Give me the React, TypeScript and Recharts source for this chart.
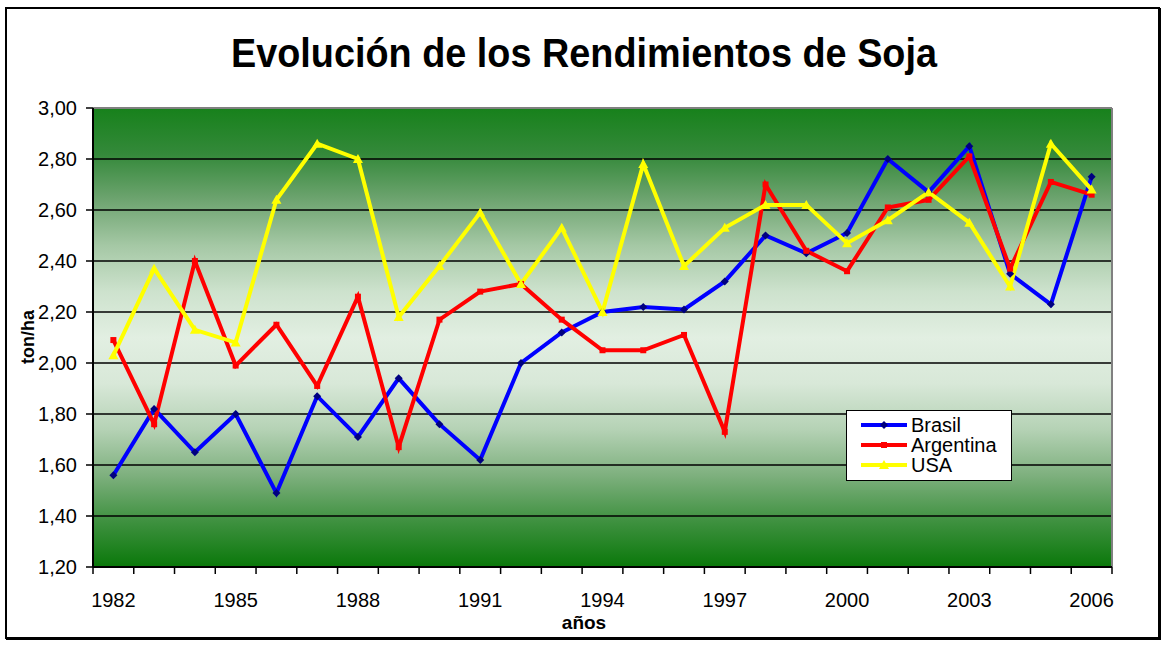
import { LineChart, Line, XAxis, YAxis, CartesianGrid, Legend, ReferenceLine } from 'recharts'

const FONT = '"Liberation Sans", Arial, sans-serif'

const years = [
  1982, 1983, 1984, 1985, 1986, 1987, 1988, 1989, 1990, 1991, 1992, 1993, 1994,
  1995, 1996, 1997, 1998, 1999, 2000, 2001, 2002, 2003, 2004, 2005, 2006,
]
const brasil = [
  1.56, 1.82, 1.65, 1.8, 1.49, 1.87, 1.71, 1.94, 1.76, 1.62, 2.0, 2.12, 2.2,
  2.22, 2.21, 2.32, 2.5, 2.43, 2.51, 2.8, 2.67, 2.85, 2.35, 2.23, 2.73,
]
const argentina = [
  2.09, 1.76, 2.4, 1.99, 2.15, 1.91, 2.26, 1.67, 2.17, 2.28, 2.31, 2.17, 2.05,
  2.05, 2.11, 1.73, 2.7, 2.44, 2.36, 2.61, 2.64, 2.81, 2.37, 2.71, 2.66,
]
const usa = [
  2.03, 2.37, 2.13, 2.08, 2.64, 2.86, 2.8, 2.18, 2.38, 2.59, 2.31, 2.53, 2.2,
  2.78, 2.38, 2.53, 2.62, 2.62, 2.47, 2.56, 2.67, 2.55, 2.3, 2.86, 2.68,
]
const yTicks = [1.2, 1.4, 1.6, 1.8, 2.0, 2.2, 2.4, 2.6, 2.8, 3.0]
const labelYears = [1982, 1985, 1988, 1991, 1994, 1997, 2000, 2003, 2006]

const series = [
  { key: 'brasil', name: 'Brasil', color: '#0000ff', marker: 'diamond' },
  { key: 'argentina', name: 'Argentina', color: '#ff0000', marker: 'square' },
  { key: 'usa', name: 'USA', color: '#ffff00', marker: 'triangle' },
]

const data = years.map((year, i) => ({
  idx: i,
  year,
  brasil: brasil[i],
  argentina: argentina[i],
  usa: usa[i],
}))

// tick marks sit between categories, labels every third year at the centre
const boundaryTicks = years.map((_, i) => i - 0.5).concat([years.length - 0.5])
const labelTicks = labelYears.map(y => years.indexOf(y))
const xTicks = [...boundaryTicks, ...labelTicks].sort((a, b) => a - b)

function Marker({ cx, cy, shape, color }: any) {
  if (cx == null || cy == null) return null
  if (shape === 'diamond')
    return (
      <polygon
        points={`${cx},${cy - 4} ${cx + 4},${cy} ${cx},${cy + 4} ${cx - 4},${cy}`}
        fill="#000080"
      />
    )
  if (shape === 'square')
    return <rect x={cx - 3} y={cy - 3} width={6} height={6} fill={color} />
  return (
    <polygon
      points={`${cx},${cy - 5} ${cx + 5},${cy + 4} ${cx - 5},${cy + 4}`}
      fill={color}
    />
  )
}

function XTick(props: any) {
  const { x, y, payload } = props
  const v = payload.value
  if (!Number.isInteger(v)) {
    return <line x1={x} x2={x} y1={y} y2={y + 7} stroke="#000" strokeWidth={1.5} />
  }
  return (
    <text x={x} y={y + 40} textAnchor="middle" fontSize={20} fontFamily={FONT} fill="#000">
      {years[v]}
    </text>
  )
}

function LegendBox() {
  return (
    <div
      style={{
        background: '#fff',
        border: '1.5px solid #000',
        boxSizing: 'border-box',
        width: 166,
        height: 71,
        padding: '4px 0 0 14px',
        fontFamily: FONT,
        fontSize: 20,
        lineHeight: '20px',
        color: '#000',
      }}
    >
      {series.map(s => (
        <div key={s.key} style={{ display: 'flex', alignItems: 'center', height: 20 }}>
          <svg width={46} height={20} style={{ marginRight: 4 }}>
            <line x1={0} x2={46} y1={10} y2={10} stroke={s.color} strokeWidth={4} />
            <Marker cx={23} cy={10} shape={s.marker} color={s.color} />
          </svg>
          <span>{s.name}</span>
        </div>
      ))}
    </div>
  )
}

export default function App() {
  return (
    <div style={{ position: 'absolute', left: 0, top: 0, width: 1161, height: 646, background: '#fff' }}>
      <div
        style={{
          position: 'absolute',
          left: 5,
          top: 7,
          width: 1155,
          height: 632,
          boxSizing: 'border-box',
          border: '2px solid #000',
          boxShadow: '1px 1px 0 #000',
        }}
      />
      <div style={{ position: 'absolute', left: 0, top: 0 }}>
        <LineChart
          width={1161}
          height={646}
          data={data}
          margin={{ top: 108, right: 49, bottom: 0, left: 0 }}
        >
          <defs>
            <linearGradient id="bgGrad" x1="0" y1="0" x2="0" y2="1">
              <stop offset="0%" stopColor="#17811b" />
              <stop offset="10%" stopColor="#34893a" />
              <stop offset="20%" stopColor="#6ea470" />
              <stop offset="30%" stopColor="#a5c8a5" />
              <stop offset="40%" stopColor="#cde2cd" />
              <stop offset="50%" stopColor="#e2efe2" />
              <stop offset="60%" stopColor="#d8e8d8" />
              <stop offset="70%" stopColor="#b5d2b5" />
              <stop offset="80%" stopColor="#7eb07e" />
              <stop offset="90%" stopColor="#3f9140" />
              <stop offset="100%" stopColor="#0a780a" />
            </linearGradient>
          </defs>
          <text
            x={584}
            y={67}
            textAnchor="middle"
            fontSize={41}
            fontWeight="bold"
            fontFamily={FONT}
            fill="#000"
            textLength={706}
            lengthAdjust="spacingAndGlyphs"
          >
            Evolución de los Rendimientos de Soja
          </text>
          <CartesianGrid
            vertical={false}
            horizontalValues={yTicks}
            stroke="#000"
            strokeWidth={1.6}
            strokeOpacity={1}
            fill="url(#bgGrad)"
            fillOpacity={1}
          />
          <XAxis
            dataKey="idx"
            type="number"
            domain={[-0.5, years.length - 0.5]}
            ticks={xTicks}
            interval={0}
            tick={<XTick />}
            tickLine={false}
            tickSize={0}
            tickMargin={0}
            height={79}
            axisLine={{ stroke: '#000', strokeWidth: 2 }}
          />
          <YAxis
            domain={[1.2, 3.0]}
            ticks={yTicks}
            interval={0}
            width={93}
            tickSize={7}
            tickMargin={9}
            tickFormatter={(v: number) => v.toFixed(2).replace('.', ',')}
            tick={{ fontSize: 20, fill: '#000', fontFamily: FONT }}
            tickLine={{ stroke: '#000', strokeWidth: 1.5 }}
            axisLine={{ stroke: '#000', strokeWidth: 2 }}
          />
          <ReferenceLine y={3.0} stroke="#808080" strokeWidth={2} />
          <ReferenceLine x={years.length - 0.5} stroke="#808080" strokeWidth={2} />
          {series.map(s => (
            <Line
              key={s.key}
              type="linear"
              dataKey={s.key}
              name={s.name}
              stroke={s.color}
              strokeWidth={4}
              isAnimationActive={false}
              dot={(p: any) => (
                <Marker key={`${s.key}-${p.index}`} cx={p.cx} cy={p.cy} shape={s.marker} color={s.color} />
              )}
              activeDot={false}
            />
          ))}
          <Legend
            layout="horizontal"
            verticalAlign="middle"
            align="center"
            content={<LegendBox />}
            wrapperStyle={{ left: 846, top: 410, width: 166, height: 71 }}
          />
          <text
            x={28}
            y={337}
            transform="rotate(-90 28 337)"
            textAnchor="middle"
            dominantBaseline="central"
            fontSize={18}
            fontWeight="bold"
            fontFamily={FONT}
            fill="#000"
          >
            ton/ha
          </text>
          <text
            x={584}
            y={629}
            textAnchor="middle"
            fontSize={19}
            fontWeight="bold"
            fontFamily={FONT}
            fill="#000"
          >
            años
          </text>
        </LineChart>
      </div>
    </div>
  )
}
